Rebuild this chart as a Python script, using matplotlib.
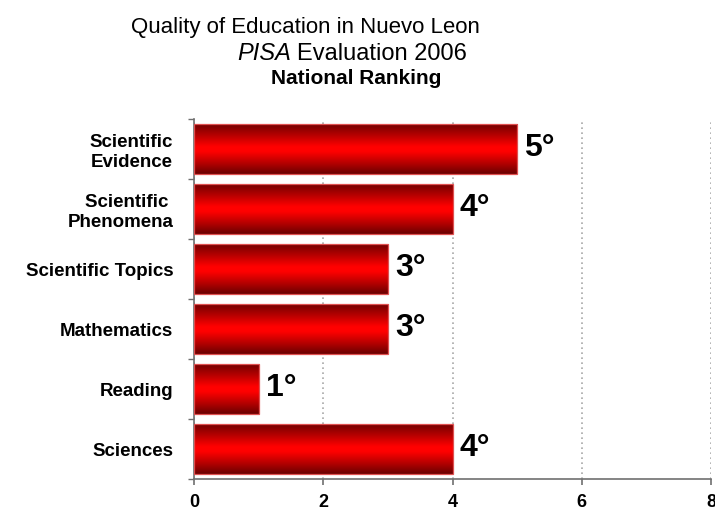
import matplotlib
matplotlib.use('Agg')
import matplotlib.pyplot as plt
import numpy as np
from matplotlib.colors import LinearSegmentedColormap

plt.rcParams['font.family'] = ['Liberation Sans', 'DejaVu Sans']

# datos del grafico (de arriba hacia abajo)
categories = ['Scientific\nEvidence', 'Scientific \nPhenomena', 'Scientific Topics',
              'Mathematics', 'Reading', 'Sciences']
values = [5, 4, 3, 3, 1, 4]
value_labels = ['5°', '4°', '3°', '3°', '1°', '4°']
xticks = [0, 2, 4, 6, 8]

W, H = 715, 516
fig = plt.figure(figsize=(W / 100, H / 100), dpi=100)
ax = fig.add_axes([194 / W, (H - 479) / H, (711 - 194) / W, (479 - 119) / H])

y = np.arange(len(categories))
bars = ax.barh(y, values, height=0.83, facecolor='none', edgecolor='#e05050',
               linewidth=0.9, zorder=3)

# degradado tipo cilindro
cmap = LinearSegmentedColormap.from_list(
    'cyl', [(0, '#740000'), (0.2, '#b00000'), (0.45, '#ff0000'), (0.55, '#ff0000'),
            (0.8, '#b00000'), (1, '#6a0000')])
grad = np.linspace(0, 1, 200).reshape(-1, 1)
for b in bars:
    x0, y0 = b.get_x(), b.get_y()
    ax.imshow(grad, cmap=cmap, aspect='auto', interpolation='bilinear',
              extent=[x0, x0 + b.get_width(), y0 + b.get_height(), y0], zorder=2)

for yi, v, lab in zip(y, values, value_labels):
    ax.annotate(lab, (v, yi), xytext=(5, 1), textcoords='offset points',
                ha='left', va='center', fontsize=23, fontweight='bold')

ax.set_xlim(0, 8)
ax.set_ylim(len(categories) - 0.5, -0.5)
ax.set_xticks(xticks)
ax.set_xticklabels([str(t) for t in xticks], fontsize=13, fontweight='bold')

ax.set_yticks(np.arange(len(categories) + 1) - 0.5)
ax.set_yticklabels([])
ax.set_yticks(y, minor=True)
ax.set_yticklabels(categories, minor=True, fontsize=13.5, fontweight='bold',
                   ha='right', ma='right', linespacing=1.25)
ax.tick_params(axis='y', which='minor', length=0, pad=15)
ax.tick_params(axis='y', which='major', length=4, color='#707070', width=1)
ax.tick_params(axis='x', length=4, color='#707070', width=1.2, pad=7)

for s in ['top', 'right']:
    ax.spines[s].set_visible(False)
for s in ['left', 'bottom']:
    ax.spines[s].set_color('#707070')
    ax.spines[s].set_linewidth(1.2)

ax.grid(axis='x', linestyle=(0, (1, 2)), color='#a8a8a8', linewidth=1.2, zorder=0)
ax.set_axisbelow(True)

# titulo en tres lineas
fig.text(305 / W, 1 - 33 / H, 'Quality of Education in Nuevo Leon', ha='center',
         va='baseline', fontsize=16)
fig.text(291 / W, 1 - 60 / H, 'PISA', ha='right', va='baseline', fontsize=17,
         style='italic')
fig.text(297 / W, 1 - 60 / H, 'Evaluation 2006', ha='left', va='baseline', fontsize=17)
fig.text(356 / W, 1 - 84 / H, 'National Ranking', ha='center', va='baseline',
         fontsize=15, fontweight='bold')

fig.savefig('out.png', dpi=100)
